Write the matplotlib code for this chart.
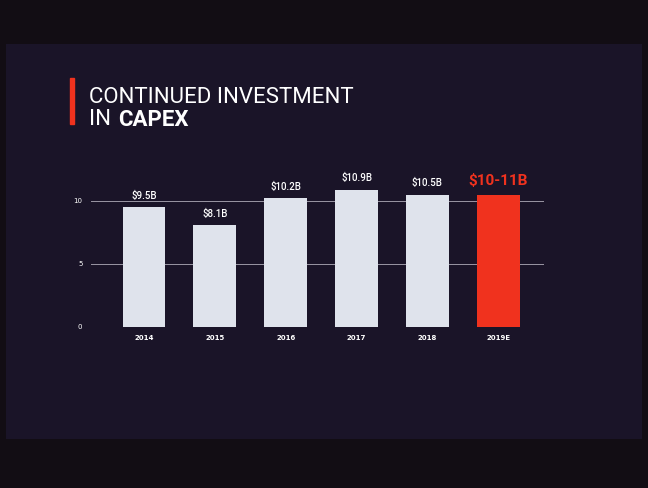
import matplotlib.pyplot as plt
from matplotlib.patches import Rectangle

# dados do slide
years = ["2014", "2015", "2016", "2017", "2018", "2019E"]
capex = [9.5, 8.1, 10.2, 10.9, 10.5, 10.5]
labels = ["$9.5B", "$8.1B", "$10.2B", "$10.9B", "$10.5B", "$10-11B"]
yticks = [0, 5, 10]

bg = "#1a1428"
bar_col = "#dfe3ec"
red = "#f0321e"

fig = plt.figure(figsize=(6.48, 4.88), dpi=100)
fig.patch.set_facecolor("#120d14")

# area do slide
slide = fig.add_axes([0.01, 0.1, 0.98, 0.81])
slide.set_facecolor(bg)
slide.set_xticks([])
slide.set_yticks([])
for s in slide.spines.values():
    s.set_visible(False)

# titulo
fig.add_artist(Rectangle((0.108, 0.745), 0.006, 0.095, transform=fig.transFigure,
                         color=red, zorder=5))
fig.text(0.138, 0.80, "CONTINUED INVESTMENT", color="white", fontsize=16,
         family="Roboto", va="center")
fig.text(0.138, 0.755, "IN ", color="white", fontsize=16,
         family="Roboto", va="center")
fig.text(0.182, 0.755, "CAPEX", color="white", fontsize=16,
         family="Roboto", fontweight="bold", va="center")

ax = fig.add_axes([0.14, 0.33, 0.70, 0.31])
ax.set_facecolor("none")
x = range(len(years))
colors = [bar_col] * (len(years) - 1) + [red]
bars = ax.bar(x, capex, width=0.6, color=colors, zorder=2)

for i, (b, lab) in enumerate(zip(bars, labels)):
    last = i == len(years) - 1
    ax.text(b.get_x() + b.get_width() / 2, b.get_height() + 0.5, lab,
            ha="center", va="bottom", color=red if last else "white",
            fontsize=11 if last else 7, fontweight="bold" if last else "medium",
            family="Roboto")

for yv in yticks:
    ax.axhline(yv, color="#9a97a4", lw=0.7, zorder=1)

ax.set_ylim(0, 12)
ax.set_xlim(-0.75, len(years) - 0.35)
ax.set_yticks(yticks)
ax.set_yticklabels([str(v) for v in yticks], color="white", fontsize=5)
ax.set_xticks(list(x))
ax.set_xticklabels(years, color="white", fontsize=5, fontweight="bold")
ax.tick_params(length=0, pad=6)
for s in ax.spines.values():
    s.set_visible(False)

plt.savefig("out.png", dpi=100, facecolor=fig.get_facecolor())
